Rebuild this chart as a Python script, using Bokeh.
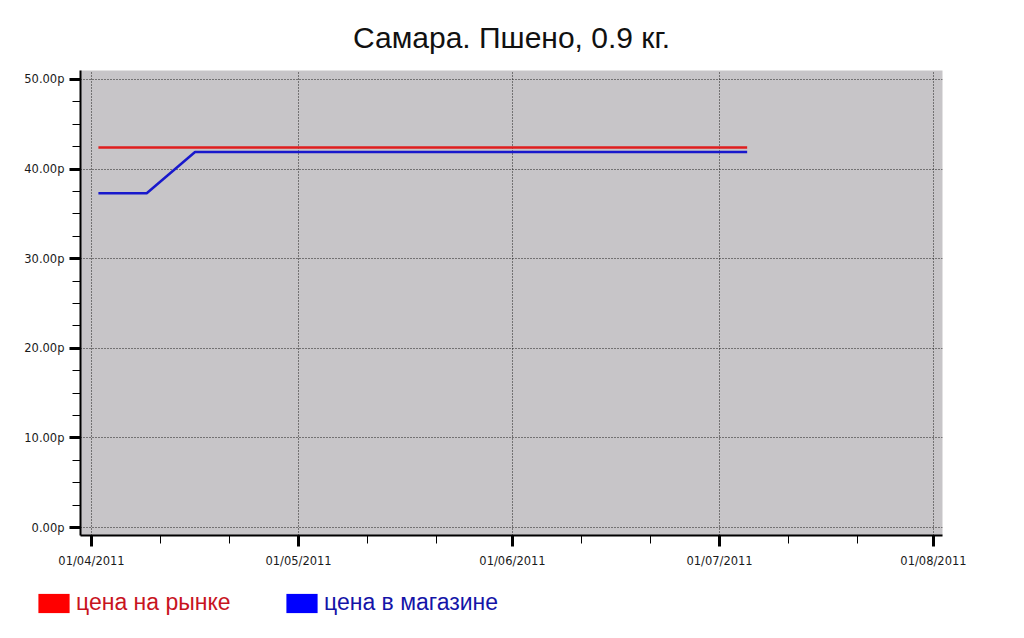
from datetime import datetime
from bokeh.plotting import figure
from bokeh.layouts import column, row
from bokeh.models import (Range1d, FixedTicker, DatetimeTickFormatter, PrintfTickFormatter,
                          Legend, LegendItem)
from bokeh.embed import file_html
from bokeh.resources import INLINE

# ---- data ----
dates = ["2011-04-02", "2011-04-09", "2011-04-16", "2011-04-23", "2011-04-30",
         "2011-05-07", "2011-05-14", "2011-05-21", "2011-05-28", "2011-06-04",
         "2011-06-11", "2011-06-18", "2011-06-25", "2011-07-02", "2011-07-05"]
market_price = [42.4] * 15
store_price = [37.3, 37.3, 41.9, 41.9, 41.9, 41.9, 41.9, 41.9, 41.9, 41.9,
               41.9, 41.9, 41.9, 41.9, 41.9]
major_dates = ["2011-04-01", "2011-05-01", "2011-06-01", "2011-07-01", "2011-08-01"]
minor_dates = ["2011-04-11", "2011-04-21", "2011-05-11", "2011-05-21", "2011-06-11",
               "2011-06-21", "2011-07-11", "2011-07-21"]
y_major = [0, 10, 20, 30, 40, 50]
y_minor = [2.5, 5, 7.5, 12.5, 15, 17.5, 22.5, 25, 27.5, 32.5, 35, 37.5, 42.5, 45, 47.5]
title_text = "Самара. Пшено, 0.9 кг."
label_market = "цена на рынке"
label_store = "цена в магазине"


def ms(s):
    return (datetime.strptime(s, "%Y-%m-%d") - datetime(1970, 1, 1)).total_seconds() * 1000.0


xs = [ms(d) for d in dates]
DAY = 86400000.0

p = figure(width=1024, height=575, output_backend="svg", toolbar_location=None,
           x_axis_type="datetime",
           x_range=Range1d(ms("2011-04-01") - 1.594 * DAY, ms("2011-08-01") + 1.304 * DAY),
           y_range=Range1d(-0.89, 51.0),
           min_border_left=80, min_border_right=82, min_border_top=70, min_border_bottom=40)

p.background_fill_color = "#c7c5c8"
p.border_fill_color = "white"
p.outline_line_color = None

p.title.text = title_text
p.title.text_font = "Liberation Sans"
p.title.text_font_size = "30px"
p.title.text_font_style = "normal"
p.title.text_color = "#111111"
p.title.align = "center"
p.title.standoff = 33

# axes
xa = p.xaxis[0]
xa.ticker = FixedTicker(ticks=[ms(d) for d in major_dates], minor_ticks=[ms(d) for d in minor_dates])
xa.formatter = DatetimeTickFormatter(days="%d/%m/%Y", months="%d/%m/%Y", years="%d/%m/%Y")
ya = p.yaxis[0]
ya.ticker = FixedTicker(ticks=y_major, minor_ticks=y_minor)
ya.formatter = PrintfTickFormatter(format="%.2fр")

for ax in (xa, ya):
    ax.axis_line_color = "black"
    ax.axis_line_width = 2
    ax.major_tick_line_color = "black"
    ax.major_tick_line_width = 3
    ax.major_tick_out = 11
    ax.major_tick_in = 0
    ax.minor_tick_line_color = "black"
    ax.minor_tick_line_width = 1
    ax.minor_tick_out = 8
    ax.minor_tick_in = 0
    ax.major_label_text_font = "DejaVu Sans"
    ax.major_label_text_font_size = "11.5px"
    ax.major_label_text_color = "#1a1a1a"
xa.major_label_standoff = 7
ya.major_label_standoff = 5

for g in (p.xgrid[0], p.ygrid[0]):
    g.grid_line_color = "#1e1e1e"
    g.grid_line_dash = "1 2"
    g.grid_line_width = 1

# lines
p.line(xs, market_price, line_color="#e01e1e", line_width=2.5)
p.line(xs, store_price, line_color="#1818cc", line_width=2.5)

# legend strip (separate figure so the legend is not clipped)
lg = figure(width=1024, height=63, output_backend="svg", toolbar_location=None,
            x_axis_location=None, y_axis_location=None,
            x_range=Range1d(0, 1), y_range=Range1d(0, 1),
            min_border_left=0, min_border_right=0, min_border_top=0, min_border_bottom=0)
lg.outline_line_color = None
lg.background_fill_color = "white"
lg.border_fill_color = "white"
lg.xgrid.visible = False
lg.ygrid.visible = False

nan = float("nan")
r_red = lg.quad(left=[nan], right=[nan], top=[nan], bottom=[nan], fill_color="#ff0000", line_color=None)
r_blue = lg.quad(left=[nan], right=[nan], top=[nan], bottom=[nan], fill_color="#0000ff", line_color=None)

common = dict(padding=0, margin=0, border_line_alpha=0, background_fill_alpha=0,
              glyph_width=39, glyph_height=24, label_height=24, label_standoff=3,
              label_text_font="Liberation Sans", label_text_font_size="23px")
leg1 = Legend(items=[LegendItem(label=label_market, renderers=[r_red])], location=(34, 22),
              label_text_color="#c8141e", **common)
leg2 = Legend(items=[LegendItem(label=label_store, renderers=[r_blue])], location=(282, 22),
              label_text_color="#1414a8", **common)
lg.add_layout(leg1, "center")
lg.add_layout(leg2, "center")

layout = column(p, row(lg), spacing=0)
open("out.html", "w").write(file_html(layout, INLINE))
